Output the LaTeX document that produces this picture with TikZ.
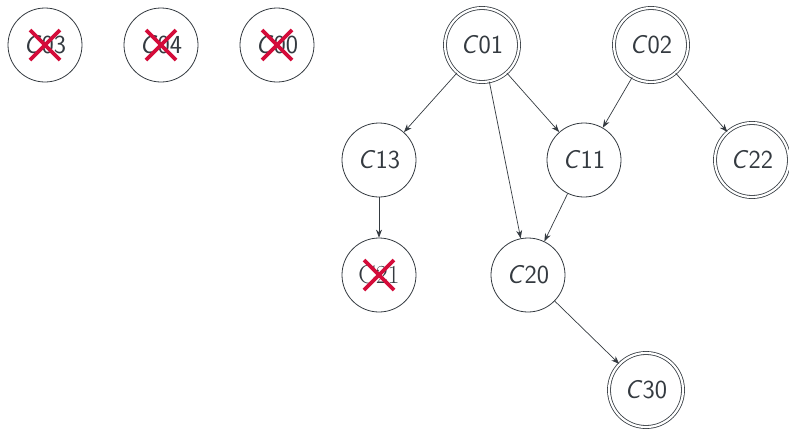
\documentclass[tikz,border=0pt]{standalone}
\usetikzlibrary{arrows.meta}

\definecolor{inkgray}{HTML}{343A40}
\definecolor{strikered}{HTML}{D40C3A}

\tikzset{
  state/.style={circle,draw=inkgray,line width=0.8pt,minimum size=74pt,
    inner sep=0pt,text=inkgray,font=\fontsize{26}{30}\selectfont\sffamily},
  goal/.style={state,double=white,double distance=2.2pt},
  link/.style={draw=inkgray,line width=0.7pt,-{Stealth[length=8pt,width=6pt]}},
  strike/.style={draw=strikered,line width=3.8pt}
}
\newcommand{\cname}[1]{\textsl{C}#1}

\begin{document}
\begin{tikzpicture}[x=1pt,y=-1pt]
  \useasboundingbox (0,0) rectangle (789,429);

  % removed candidates (top left)
  \node[state] (c03) at (45,45)  {\cname{03}};
  \node[state] (c04) at (161,45) {\cname{04}};
  \node[state] (c00) at (277,45) {\cname{00}};

  % graph
  \node[goal]  (c01) at (482,45)  {\cname{01}};
  \node[goal]  (c02) at (651,45)  {\cname{02}};
  \node[state] (c13) at (379,160) {\cname{13}};
  \node[state] (c11) at (584,160) {\cname{11}};
  \node[goal]  (c22) at (752,160) {\cname{22}};
  \node[state] (c21) at (379,275) {\rmfamily C21};
  \node[state] (c20) at (528,275) {\cname{20}};
  \node[goal]  (c30) at (646,390) {\cname{30}};

  % edges
  \foreach \a/\b in {c01/c13,c01/c20,c01/c11,c02/c11,c02/c22,c13/c21,c11/c20,c20/c30}
    \draw[link] (\a) -- (\b);

  % crosses
  \foreach \n in {c03,c04,c00,c21} {
    \draw[strike] ([shift={(-15,-15)}]\n.center) -- ([shift={(15,15)}]\n.center);
    \draw[strike] ([shift={(-15,15)}]\n.center) -- ([shift={(15,-15)}]\n.center);
  }
\end{tikzpicture}
\end{document}
